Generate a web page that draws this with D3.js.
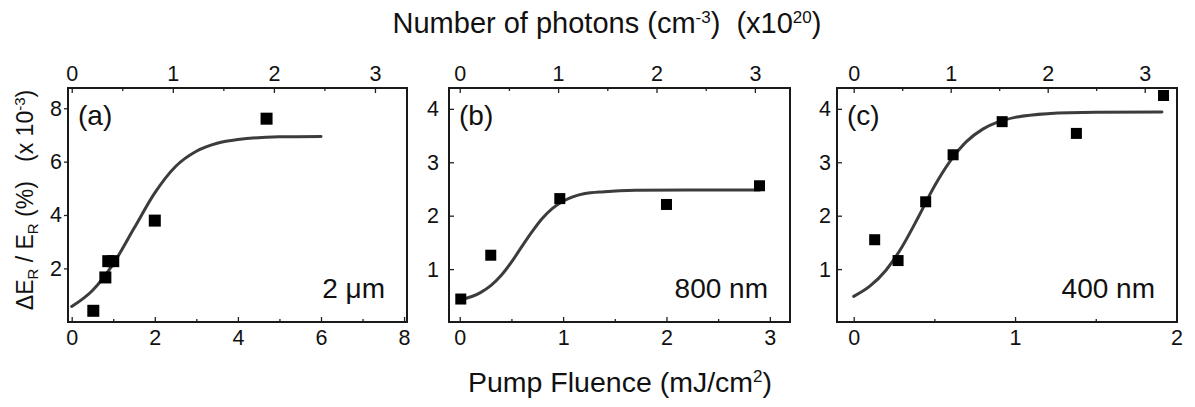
<!DOCTYPE html>
<html><head><meta charset="utf-8">
<script src="https://cdn.jsdelivr.net/npm/d3@7"></script>
<style>
body{margin:0;background:#fff;}
text{font-family:"Liberation Sans",Arial,sans-serif;fill:#111;}
</style></head>
<body><svg id="chart" width="1195" height="407"></svg>
<script>
// ---- data ----
const panelNames = ["(a)", "(b)", "(c)"];
const wavelengthLabels = ["2 \u03bcm", "800 nm", "400 nm"];

const fluenceA = [0.52, 0.81, 0.88, 1.0, 2.0, 4.69];
const signalA  = [0.41, 1.66, 2.27, 2.27, 3.79, 7.61];
const fitXA = [0, 0.5, 1, 1.5, 2, 2.5, 3, 3.5, 4, 5, 6];
const fitYA = [0.57, 1.17, 2.17, 3.5, 4.83, 5.82, 6.39, 6.69, 6.83, 6.93, 6.945];

const fluenceB = [0.01, 0.30, 0.968, 2.0, 2.9];
const signalB  = [0.44, 1.26, 2.32, 2.21, 2.56];
const fitXB = [0, 0.2, 0.3, 0.4, 0.5, 0.6, 0.7, 0.8, 0.9, 1.0, 1.2, 1.4, 1.7, 2.2, 2.9];
const fitYB = [0.42, 0.56, 0.69, 0.88, 1.13, 1.42, 1.70, 1.95, 2.14, 2.27, 2.41, 2.45, 2.475, 2.48, 2.48];

const fluenceC = [0.13, 0.275, 0.446, 0.616, 0.92, 1.38, 1.92];
const signalC  = [1.55, 1.16, 2.26, 3.14, 3.76, 3.54, 4.25];
const fitXC = [0, 0.1, 0.2, 0.3, 0.4, 0.5, 0.6, 0.7, 0.8, 0.9, 1.0, 1.2, 1.5, 1.91];
const fitYC = [0.49, 0.68, 0.98, 1.42, 1.97, 2.55, 3.03, 3.39, 3.62, 3.76, 3.84, 3.91, 3.935, 3.94];

const bottomTicksA = [0, 2, 4, 6, 8], bottomMinorA = [1, 3, 5, 7];
const bottomTicksB = [0, 1, 2, 3],    bottomMinorB = [0.5, 1.5, 2.5];
const bottomTicksC = [0, 1, 2],       bottomMinorC = [0.5, 1.5];
const topTicks = [0, 1, 2, 3], topMinor = [0.5, 1.5, 2.5];
const yTicksA = [2, 4, 6, 8];
const yTicksBC = [1, 2, 3, 4];

// ---- layout ----
const svg = d3.select("#chart");
const plotTop = 88, plotBottom = 322;

const panels = [
  {name: panelNames[0], lab: wavelengthLabels[0], left: 68, right: 407,
   xDom: [-0.089, 8.07], tDom: [-0.037, 3.317], yDom: [-0.01, 8.76],
   fx: fluenceA, fy: signalA, cx: fitXA, cy: fitYA,
   bt: bottomTicksA, bm: bottomMinorA, yt: yTicksA, yIn: false, yPad: 2, sq: 12},
  {name: panelNames[1], lab: wavelengthLabels[1], left: 449, right: 790,
   xDom: [-0.104, 3.195], tDom: [-0.109, 3.357], yDom: [0.01, 4.39],
   fx: fluenceB, fy: signalB, cx: fitXB, cy: fitYB,
   bt: bottomTicksB, bm: bottomMinorB, yt: yTicksBC, yIn: true, yPad: 10, sq: 11},
  {name: panelNames[2], lab: wavelengthLabels[2], left: 837, right: 1177,
   xDom: [-0.1035, 2.0035], tDom: [-0.172, 3.333], yDom: [0.01, 4.39],
   fx: fluenceC, fy: signalC, cx: fitXC, cy: fitYC,
   bt: bottomTicksC, bm: bottomMinorC, yt: yTicksBC, yIn: true, yPad: 6, sq: 11}
];

panels.forEach(p => {
  const x = d3.scaleLinear().domain(p.xDom).range([p.left, p.right]);
  const xt = d3.scaleLinear().domain(p.tDom).range([p.left, p.right]);
  const y = d3.scaleLinear().domain(p.yDom).range([plotBottom, plotTop]);
  const g = svg.append("g");

  g.append("g").attr("transform", `translate(0,${plotBottom})`)
    .call(d3.axisBottom(x).tickValues(p.bt).tickFormat(d3.format("d")).tickSizeInner(-5).tickSizeOuter(0).tickPadding(8));
  g.append("g").attr("transform", `translate(0,${plotBottom})`)
    .call(d3.axisBottom(x).tickValues(p.bm).tickFormat("").tickSizeInner(-3).tickSizeOuter(0));
  g.append("g").attr("transform", `translate(0,${plotTop})`)
    .call(d3.axisTop(xt).tickValues(topTicks).tickFormat(d3.format("d")).tickSizeInner(-5).tickSizeOuter(0).tickPadding(7));
  g.append("g").attr("transform", `translate(0,${plotTop})`)
    .call(d3.axisTop(xt).tickValues(topMinor).tickFormat("").tickSizeInner(-3).tickSizeOuter(0));
  const ya = d3.axisLeft(y).tickValues(p.yt).tickFormat(d3.format("d")).tickSizeOuter(0);
  if (p.yIn) ya.tickSizeInner(-5).tickPadding(p.yPad); else ya.tickSizeInner(4).tickPadding(p.yPad);
  g.append("g").attr("transform", `translate(${p.left},0)`).call(ya);

  g.selectAll(".domain").remove();
  g.selectAll(".tick line").attr("stroke", "#222").attr("stroke-width", 1.3);
  g.selectAll(".tick text").attr("font-size", 21.5).attr("fill", "#111")
    .attr("font-family", "'Liberation Sans', Arial, sans-serif");

  g.append("rect").attr("x", p.left).attr("y", plotTop)
    .attr("width", p.right - p.left).attr("height", plotBottom - plotTop)
    .attr("fill", "none").attr("stroke", "#1a1a1a").attr("stroke-width", 2);

  const line = d3.line().x(d => x(d[0])).y(d => y(d[1])).curve(d3.curveMonotoneX);
  g.append("path").datum(p.cx.map((v, i) => [v, p.cy[i]]))
    .attr("d", line).attr("fill", "none").attr("stroke", "#3c3c3c")
    .attr("stroke-width", 3).attr("stroke-linecap", "round");

  g.selectAll("rect.pt").data(p.fx.map((v, i) => [v, p.fy[i]])).enter()
    .append("rect").attr("class", "pt")
    .attr("x", d => x(d[0]) - p.sq / 2).attr("y", d => y(d[1]) - p.sq / 2)
    .attr("width", p.sq).attr("height", p.sq).attr("fill", "#000");

  g.append("text").attr("x", p.left + 10).attr("y", 125)
    .attr("font-size", 28).text(p.name);
  g.append("text").attr("x", p.right - 22).attr("y", 298)
    .attr("text-anchor", "end").attr("font-size", 28).text(p.lab);
});

const tt = svg.append("text").attr("x", 607).attr("y", 33)
  .attr("text-anchor", "middle").attr("font-size", 29);
tt.append("tspan").text("Number of photons (cm");
tt.append("tspan").attr("dy", -10).attr("font-size", 17).text("-3");
tt.append("tspan").attr("dy", 10).text(")\u00a0\u00a0(x10");
tt.append("tspan").attr("dy", -10).attr("font-size", 17).text("20");
tt.append("tspan").attr("dy", 10).text(")");

const bt = svg.append("text").attr("x", 620).attr("y", 392)
  .attr("text-anchor", "middle").attr("font-size", 28.5);
bt.append("tspan").text("Pump Fluence (mJ/cm");
bt.append("tspan").attr("dy", -10).attr("font-size", 17).text("2");
bt.append("tspan").attr("dy", 10).text(")");

const yt = svg.append("text").attr("transform", "translate(33,200) rotate(-90)")
  .attr("text-anchor", "middle").attr("font-size", 23);
yt.append("tspan").text("\u0394E");
yt.append("tspan").attr("dy", 5).attr("font-size", 15).text("R");
yt.append("tspan").attr("dy", -5).text(" / E");
yt.append("tspan").attr("dy", 5).attr("font-size", 15).text("R");
yt.append("tspan").attr("dy", -5).text(" (%)\u00a0\u00a0\u00a0(x 10");
yt.append("tspan").attr("dy", -8).attr("font-size", 15).text("-3");
yt.append("tspan").attr("dy", 8).text(")");
</script></body></html>
